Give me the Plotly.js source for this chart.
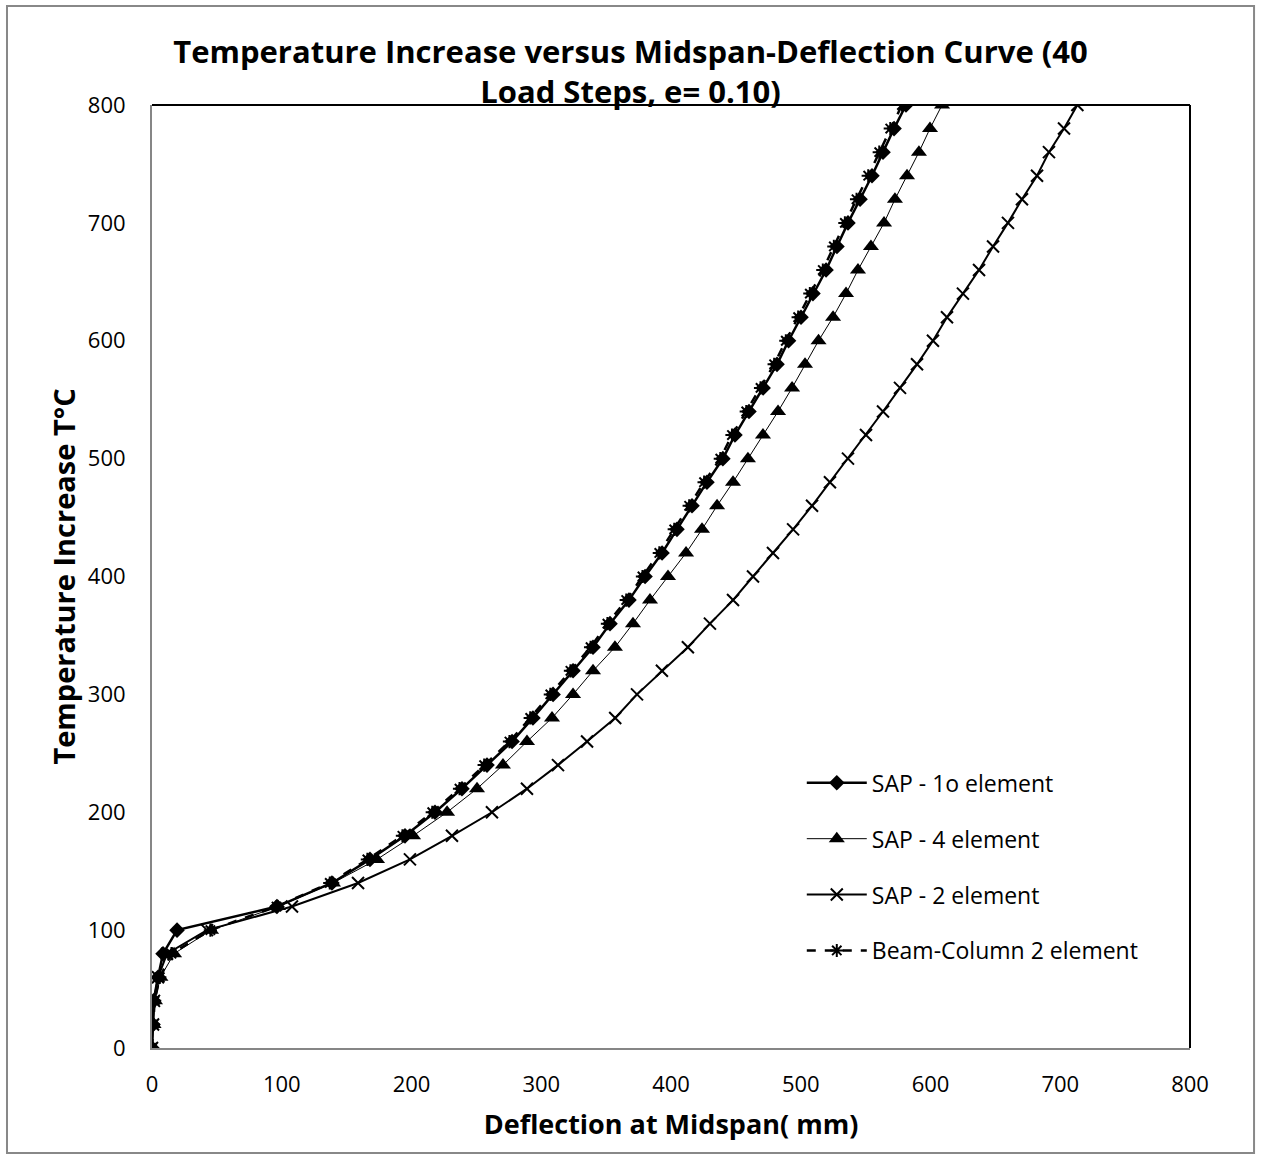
<!DOCTYPE html>
<html>
<head>
<meta charset="utf-8">
<script src="https://cdn.plot.ly/plotly-3.0.1.min.js"></script>
<style>html,body{margin:0;padding:0;background:#fff;}#chart{width:1261px;height:1160px;}</style>
</head>
<body>
<div id="chart"></div>
<script>
// Temperature increase (°C) – load steps
const temperature = [0,20,40,60,80,100,120,140,160,180,200,220,240,260,280,300,320,340,360,380,400,
  420,440,460,480,500,520,540,560,580,600,620,640,660,680,700,720,740,760,780,800];

// Midspan deflection (mm)
const sap10 = [0,0.8,1.2,4.6,8.5,19.3,96.3,138.7,168,195,218.1,238.9,258.2,277.5,293.6,309.1,324.5,339.9,353,367.6,380,
  393.1,404.6,416.2,427.7,440,449.3,460.1,471,481.7,490.6,500.2,509.4,519.5,527.9,536.4,545.7,554.9,563.4,571.9,581.1];
const sap4 = [0,1.2,2.3,6.5,17,45.5,97.1,139.5,173.4,201.2,227.4,250.5,270.5,289,308.3,324.5,339.9,356.8,370.7,383.8,397.7,
  411.6,423.9,435.5,447.8,459.3,470.9,482.5,493.3,503.3,513.7,524.9,534.9,544.1,554.1,564.2,572.6,581.9,591.1,599.6,608.9];
const sap2 = [0,0.8,1.5,4.6,11.6,42.4,107.9,158.8,198.8,231.2,262,289,312.9,335.3,357,373.8,393,413,430,447.8,463.2,
  478.6,494.1,508.7,522.5,536.4,550.3,563.4,576.5,589.6,601.9,612.7,625,637.4,648.2,659.7,670.5,682.1,691.3,702.9,713.2];
const beamColumn = [0,1,2,6,15,45,96,137,166,193,216,237,256,275.5,291.5,307,322.5,338,351,365.5,378,
  391,402.5,414,425.5,438,447,458,469,479.5,488.5,498,507,517,525.5,534,543,552,560.5,569,578];

const seriesNames = ["SAP - 1o element","SAP - 4 element","SAP - 2 element","Beam-Column 2 element"];

const FONT = "Open Sans, Noto Sans, sans-serif";

const traces = [
  {x: sap10, y: temperature, name: seriesNames[0], mode: "lines+markers", legendgroup: "a",
   line: {color: "#000", width: 2.5},
   marker: {symbol: "diamond", size: 12, color: "#000"}},
  {x: sap4, y: temperature, name: seriesNames[1], mode: "lines+markers", legendgroup: "b",
   line: {color: "#000", width: 1},
   marker: {symbol: "triangle-up", size: 14, color: "#000"}},
  {x: sap2, y: temperature, name: seriesNames[2], mode: "lines+markers", legendgroup: "c",
   line: {color: "#000", width: 2},
   marker: {symbol: "x-thin-open", size: 12, color: "#000", line: {color: "#000", width: 2}}},
  {x: beamColumn, y: temperature, name: seriesNames[3], mode: "lines+markers", legendgroup: "d",
   line: {color: "#000", width: 2.5, dash: "dash"},
   marker: {symbol: "asterisk-open", size: 11, color: "#000", line: {color: "#000", width: 2}}}
];

const layout = {
  width: 1261, height: 1160,
  margin: {l: 152, r: 71, t: 105, b: 112},
  paper_bgcolor: "#fff", plot_bgcolor: "#fff",
  font: {family: FONT, color: "#000", size: 22},
  title: {
    text: "<b>Temperature Increase versus Midspan-Deflection Curve (40<br>Load Steps, e= 0.10)</b>",
    font: {family: FONT, size: 31, color: "#000"},
    x: 0.5, xanchor: "center", y: 0.946, yanchor: "top", yref: "container"
  },
  xaxis: {
    range: [0, 800], dtick: 100, tick0: 0, showgrid: false, zeroline: false,
    showline: true, linecolor: "#868686", linewidth: 2,
    ticks: "outside", ticklen: 16, tickcolor: "rgba(0,0,0,0)",
    tickfont: {family: FONT, size: 22, color: "#000"},
    title: {text: "<b>Deflection at Midspan( mm)</b>", font: {family: FONT, size: 27, color: "#000"}, standoff: 18}
  },
  yaxis: {
    range: [0, 800], dtick: 100, tick0: 0, showgrid: false, zeroline: false,
    showline: true, linecolor: "#868686", linewidth: 2,
    ticks: "outside", ticklen: 20, tickcolor: "rgba(0,0,0,0)",
    tickfont: {family: FONT, size: 22, color: "#000"},
    title: {text: "<b>Temperature Increase T°C</b>", font: {family: FONT, size: 29, color: "#000"}, standoff: 4}
  },
  showlegend: true,
  legend: {
    x: 0.626, y: 0.304, xanchor: "left", yanchor: "top",
    bgcolor: "rgba(255,255,255,0)", borderwidth: 0,
    font: {family: FONT, size: 23, color: "#000"},
    tracegroupgap: 23, itemwidth: 60
  },
  shapes: [
    {type: "line", xref: "paper", yref: "paper", x0: 0, x1: 1, y0: 1, y1: 1, line: {color: "#000", width: 2}},
    {type: "line", xref: "paper", yref: "paper", x0: 1, x1: 1, y0: 0, y1: 1, line: {color: "#000", width: 2}},
    {type: "rect", xref: "paper", yref: "paper", x0: -0.1397, x1: 1.0617, y0: -0.1113, y1: 1.105,
     line: {color: "#888", width: 2}, fillcolor: "rgba(0,0,0,0)", layer: "below"}
  ]
};

Plotly.newPlot("chart", traces, layout, {displayModeBar: false, staticPlot: true});
</script>
</body>
</html>
